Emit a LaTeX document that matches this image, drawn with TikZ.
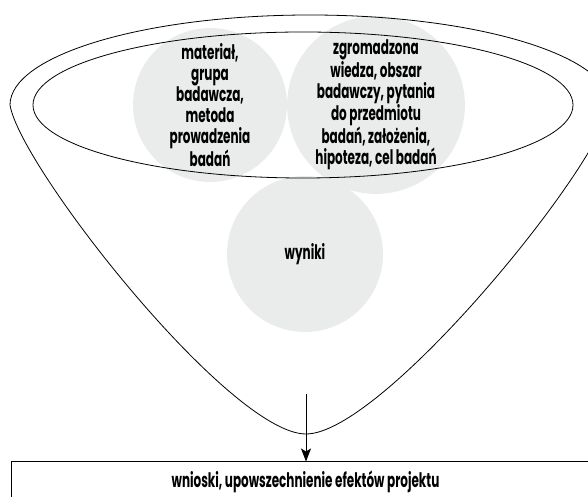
\documentclass[tikz,border=0pt]{standalone}
\usepackage{fontspec}
\setmainfont{Poppins}[FakeStretch=0.6]
\usetikzlibrary{arrows.meta,calc}
\definecolor{szary}{HTML}{EAEBEB}
\newcommand\napis{\fontsize{20}{21}\selectfont\bfseries}
\tikzset{
  kolo/.style={
    shape = circle,
    fill = szary,
    inner sep = 0pt,
    align = center,
    font = \napis
  },
  lejek/.style={
    line width = 0.8pt
  },
  ramka/.style={
    draw,
    line width = 1pt,
    shape = rectangle,
    font = \napis
  },
  strzalka/.style={
    line width = 0.8pt,
    -{Stealth[length=13pt,width=10pt,inset=3pt]}
  }
}

\begin{document}
\begin{tikzpicture}[x=1pt,y=1pt]
    \useasboundingbox (0,0) rectangle (588,497);
    % kola
    \node[kolo, minimum size=154pt] (material) at (210,392) {materiał,\\grupa\\badawcza,\\metoda\\prowadzenia\\badań};
    \node[kolo, minimum size=176pt] (wiedza) at (376,392) {zgromadzona\\wiedza, obszar\\badawczy, pytania\\do przedmiotu\\badań, założenia,\\hipoteza, cel badań};
    \node[kolo, minimum size=156pt] (wyniki) at (305,243) {wyniki};
    % lejek
    \draw[lejek] (10,392) .. controls (20,330) and (230,63) .. (306,63)
        .. controls (382,63) and (600,330) .. (610,392)
        arc[start angle=0, end angle=180, x radius=300, y radius=90];
    \draw[lejek] (303,392) ellipse[x radius=270, y radius=73];
    % wnioski
    \node[ramka, minimum width=589pt, minimum height=40pt] (wnioski) at (305.5,15) {wnioski, upowszechnienie efektów projektu};
    \coordinate (start) at (306,103);
    \draw[strzalka] (start) -- (start |- wnioski.north);
\end{tikzpicture}
\end{document}
